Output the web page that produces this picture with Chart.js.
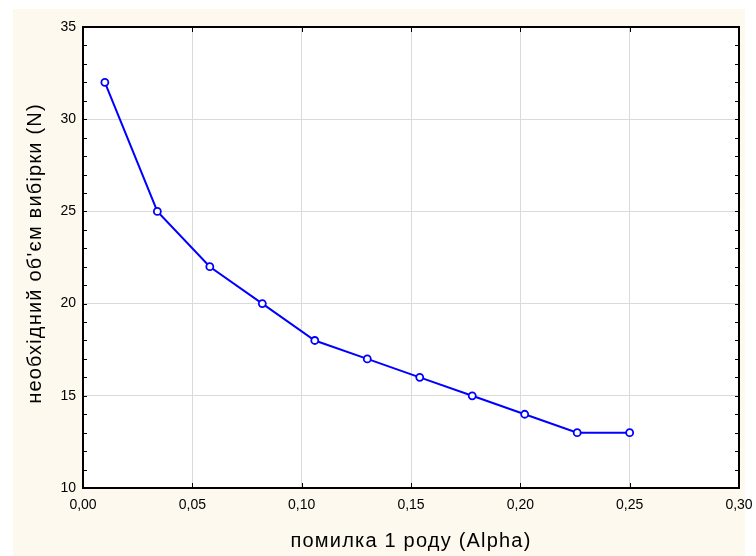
<!DOCTYPE html>
<html>
<head>
<meta charset="utf-8">
<script src="https://cdn.jsdelivr.net/npm/chart.js@4.4.0/dist/chart.umd.min.js"></script>
<style>
  body { margin: 0; background: #ffffff; }
  canvas { display: block; }
</style>
</head>
<body>
<canvas id="sampleChart" width="756" height="556"></canvas>
<script>
// помилка 1 роду (alpha) та необхідний обсяг вибірки
const alphaValues = [0.01, 0.034, 0.058, 0.082, 0.106, 0.13, 0.154, 0.178, 0.202, 0.226, 0.25];
const sampleSizes = [32, 25, 22, 20, 18, 17, 16, 15, 14, 13, 13];
const xTicks = [0, 0.05, 0.10, 0.15, 0.20, 0.25, 0.30];
const yTicks = [10, 15, 20, 25, 30, 35];
const xTitle = 'помилка 1 роду (Alpha)';
const yTitle = 'необхідний об\'єм вибірки (N)';

const points = alphaValues.map((a, i) => ({ x: a, y: sampleSizes[i] }));

// cream page, frame, inner tick marks and the two axis titles
const framePlugin = {
    id: 'frame',
    beforeDraw(chart) {
        const ctx = chart.ctx;
        ctx.save();
        ctx.fillStyle = '#fef9ee';
        ctx.fillRect(13, 9, 732, 547);
        const a = chart.chartArea;
        ctx.fillStyle = '#ffffff';
        ctx.fillRect(a.left, a.top, a.right - a.left, a.bottom - a.top);
        ctx.restore();
    },
    afterDatasetsDraw(chart) {
        const ctx = chart.ctx;
        const a = chart.chartArea;
        const xs = chart.scales.x;
        const ys = chart.scales.y;
        ctx.save();
        ctx.strokeStyle = '#000000';
        ctx.lineWidth = 1;
        ctx.beginPath();
        for (let v = 10; v <= 35; v++) {
            const py = Math.round(ys.getPixelForValue(v)) + 0.5;
            ctx.moveTo(a.left, py);
            ctx.lineTo(a.left + 4, py);
            ctx.moveTo(a.right, py);
            ctx.lineTo(a.right - 4, py);
        }
        xTicks.forEach(v => {
            const px = Math.round(xs.getPixelForValue(v)) + 0.5;
            ctx.moveTo(px, a.bottom);
            ctx.lineTo(px, a.bottom - 5);
            ctx.moveTo(px, a.top);
            ctx.lineTo(px, a.top + 5);
        });
        ctx.stroke();
        ctx.lineWidth = 2;
        ctx.strokeRect(a.left, a.top, a.right - a.left, a.bottom - a.top);

        ctx.fillStyle = '#000000';
        ctx.font = '20px "Liberation Sans"';
        ctx.letterSpacing = '1.2px';
        ctx.textAlign = 'center';
        ctx.textBaseline = 'middle';
        ctx.fillText(xTitle, (a.left + a.right) / 2, 541);
        ctx.translate(35, (a.top + a.bottom) / 2 - 4);
        ctx.rotate(-Math.PI / 2);
        ctx.fillText(yTitle, 0, 0);
        ctx.restore();
    }
};

new Chart(document.getElementById('sampleChart'), {
    type: 'scatter',
    data: {
        datasets: [{
            data: points,
            showLine: true,
            borderColor: '#0000ff',
            borderWidth: 2,
            pointRadius: 3.5,
            pointBorderWidth: 1.8,
            pointBackgroundColor: '#ffffff',
            pointBorderColor: '#0000ff'
        }]
    },
    options: {
        responsive: false,
        animation: false,
        layout: { padding: { top: 27, right: 17, left: 0, bottom: 0 } },
        plugins: {
            legend: { display: false },
            tooltip: { enabled: false }
        },
        scales: {
            x: {
                type: 'linear',
                min: 0,
                max: 0.3,
                afterBuildTicks: (scale) => { scale.ticks = xTicks.map(v => ({ value: v })); },
                afterFit: (scale) => {
                    scale.height = 68;
                    scale.paddingLeft = 0;
                    scale.paddingRight = 0;
                },
                grid: { color: '#dadada', drawTicks: false },
                border: { display: false },
                ticks: {
                    padding: 9,
                    color: '#000000',
                    font: { family: 'Liberation Sans', size: 14 },
                    callback: (v) => v.toFixed(2).replace('.', ',')
                }
            },
            y: {
                type: 'linear',
                min: 10,
                max: 35,
                afterBuildTicks: (scale) => { scale.ticks = yTicks.map(v => ({ value: v })); },
                afterFit: (scale) => {
                    scale.width = 83;
                    scale.paddingTop = 0;
                    scale.paddingBottom = 0;
                },
                grid: { color: '#dadada', drawTicks: false },
                border: { display: false },
                ticks: {
                    padding: 7,
                    color: '#000000',
                    font: { family: 'Liberation Sans', size: 14 }
                }
            }
        }
    },
    plugins: [framePlugin]
});
</script>
</body>
</html>
